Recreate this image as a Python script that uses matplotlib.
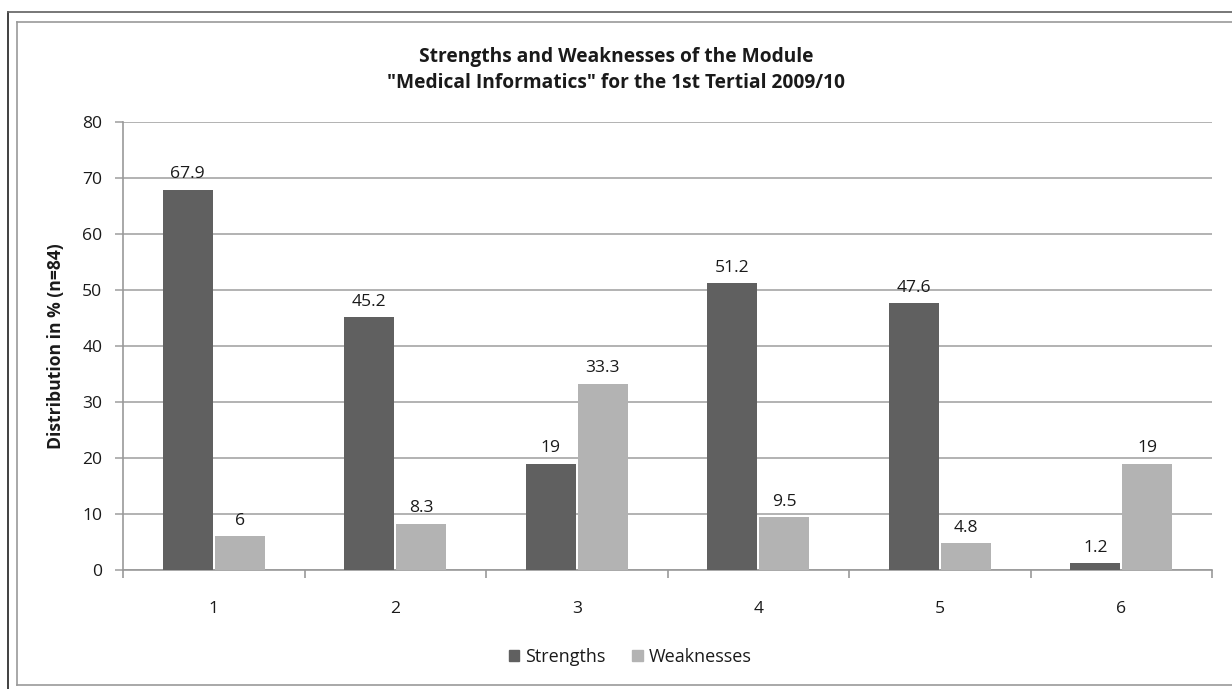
import numpy as np
import matplotlib.pyplot as plt
from matplotlib.lines import Line2D
from matplotlib.patches import Patch

plt.rcParams['font.family'] = ['Open Sans', 'DejaVu Sans']

categories = ['1', '2', '3', '4', '5', '6']
strengths = [67.9, 45.2, 19, 51.2, 47.6, 1.2]
weaknesses = [6, 8.3, 33.3, 9.5, 4.8, 19]
strength_labels = ['67.9', '45.2', '19', '51.2', '47.6', '1.2']
weakness_labels = ['6', '8.3', '33.3', '9.5', '4.8', '19']

dark = '#606060'
light = '#b3b3b3'
grid_c = '#a6a6a6'
text_c = '#1a1a1a'
fs = 12.6

W, H = 1232, 689
fig = plt.figure(figsize=(W / 100, H / 100), dpi=100)

# frame borders
def fx(px): return px / W
def fy(py): return 1 - py / H
fig.add_artist(Line2D([fx(8), fx(8)], [fy(12), 0], color='#202020', lw=1.2))
fig.add_artist(Line2D([fx(8), 1], [fy(12), fy(12)], color='#606060', lw=1.2))
fig.add_artist(Line2D([fx(17), fx(17)], [fy(22), fy(685)], color='#999999', lw=1.2))
fig.add_artist(Line2D([fx(17), 1], [fy(22), fy(22)], color='#999999', lw=1.2))
fig.add_artist(Line2D([fx(17), 1], [fy(685), fy(685)], color='#999999', lw=1.2))

ax = fig.add_axes([fx(123), fy(570), fx(1212) - fx(123), fy(122) - fy(570)])

x = np.arange(len(categories))
bw = 0.275
gap = 0.006
b1 = ax.bar(x - bw / 2 - gap, strengths, bw, color=dark, label='Strengths', zorder=3)
b2 = ax.bar(x + bw / 2 + gap, weaknesses, bw, color=light, label='Weaknesses', zorder=3)

for rect, lab in zip(b1, strength_labels):
    ax.text(rect.get_x() + rect.get_width() / 2, rect.get_height() + 1.3, lab,
            ha='center', va='bottom', fontsize=fs, color=text_c)
for rect, lab in zip(b2, weakness_labels):
    ax.text(rect.get_x() + rect.get_width() / 2, rect.get_height() + 1.3, lab,
            ha='center', va='bottom', fontsize=fs, color=text_c)

ax.set_xlim(-0.5, len(categories) - 0.5)
ax.set_ylim(0, 80)
ax.set_yticks(np.arange(0, 81, 10))
ax.yaxis.grid(True, color=grid_c, lw=1.2, zorder=0)
ax.set_axisbelow(True)

ax.set_xticks(np.arange(-0.5, len(categories) + 0.5, 1))
ax.set_xticklabels([])
ax.set_xticks(x, minor=True)
ax.set_xticklabels(categories, minor=True)
ax.tick_params(axis='x', which='major', length=6, width=1.2, color='#999999', direction='out')
ax.tick_params(axis='x', which='minor', length=0, pad=22, labelsize=fs, labelcolor=text_c)
ax.tick_params(axis='y', length=6, width=1.2, color=grid_c, pad=9, labelsize=fs, labelcolor=text_c)

for s in ['top', 'right']:
    ax.spines[s].set_visible(False)
ax.spines['left'].set_color('#999999')
ax.spines['bottom'].set_color('#999999')
ax.spines['left'].set_linewidth(1.2)
ax.spines['bottom'].set_linewidth(1.2)

ax.set_ylabel('Distribution in % (n=84)', fontsize=fs, fontweight='bold', color=text_c, labelpad=12)

fig.text(0.5, fy(70), 'Strengths and Weaknesses of the Module\n"Medical Informatics" for the 1st Tertial 2009/10',
         ha='center', va='center', fontsize=13.8, fontweight='bold', color=text_c, linespacing=1.4)

handles = [Patch(color=dark, label='Strengths'), Patch(color=light, label='Weaknesses')]
fig.legend(handles=handles, loc='center', bbox_to_anchor=(fx(630), fy(657)), ncol=2,
           frameon=False, fontsize=13, handlelength=0.6, handleheight=0.6,
           handletextpad=0.3, columnspacing=1.5, labelcolor=text_c)

fig.savefig('out.png', dpi=100)
